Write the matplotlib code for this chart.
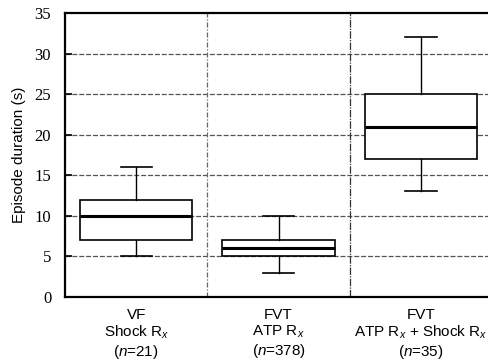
import matplotlib.pyplot as plt

plt.rcParams['mathtext.fontset'] = 'custom'
plt.rcParams['mathtext.rm'] = 'Liberation Sans'
plt.rcParams['mathtext.it'] = 'Liberation Sans:italic'

# box statistics (seconds)
groups = ['VF', 'FVT', 'FVT']
treatments = ['Shock R$_x$', 'ATP R$_x$', 'ATP R$_x$ + Shock R$_x$']
counts = [21, 378, 35]
whisker_lo = [5, 3, 13]
q1 = [7, 5, 17]
median = [10, 6, 21]
q3 = [12, 7, 25]
whisker_hi = [16, 10, 32]
yticks = [0, 5, 10, 15, 20, 25, 30, 35]

stats = []
for i in range(len(groups)):
    stats.append({'whislo': whisker_lo[i], 'q1': q1[i], 'med': median[i],
                  'q3': q3[i], 'whishi': whisker_hi[i], 'fliers': []})

fig = plt.figure(figsize=(4.89, 3.60), dpi=100)
ax = fig.add_axes([0.133, 0.175, 0.866, 0.789])

for y in yticks[1:-1]:
    ax.axhline(y, color='#555555', lw=0.9, ls=(0, (4, 1.5)), zorder=0)
ax.axvline(1.5, color='#666666', lw=0.9, ls=(0, (4, 1.5, 1, 1.5)), zorder=0)
ax.axvline(2.5, color='#333333', lw=0.9, ls=(0, (6, 1, 1, 1)), zorder=0)

ax.bxp(stats, positions=[1, 2, 3], widths=0.79, showfliers=False,
       boxprops=dict(color='black', lw=1.2),
       medianprops=dict(color='black', lw=2.2),
       whiskerprops=dict(color='black', lw=1.0),
       capprops=dict(color='black', lw=1.2),
       capwidths=0.22, patch_artist=True,
       manage_ticks=False)
for p in ax.patches:
    p.set_facecolor('white')
    p.set_zorder(2)

ax.set_xlim(0.5, 3.475)
ax.set_ylim(0, 35)
ax.set_yticks(yticks)
ax.set_yticklabels([str(t) for t in yticks], family='Liberation Serif', fontsize=12)
ax.tick_params(axis='y', direction='in', length=5, width=1.2, pad=10)

labels = []
for g, t, n in zip(groups, treatments, counts):
    labels.append(f'{g}\n{t}\n($n$={n})')
ax.set_xticks([1, 2, 3])
ax.set_xticklabels(labels, family='Liberation Sans', fontsize=11, linespacing=1.15)
ax.tick_params(axis='x', length=0, pad=8)

for s in ['left', 'bottom', 'top']:
    ax.spines[s].set_linewidth(1.6)
ax.spines['right'].set_visible(False)

ax.set_ylabel('Episode duration (s)', family='Liberation Sans', fontsize=11, labelpad=6)

fig.savefig('out.png', dpi=100)
